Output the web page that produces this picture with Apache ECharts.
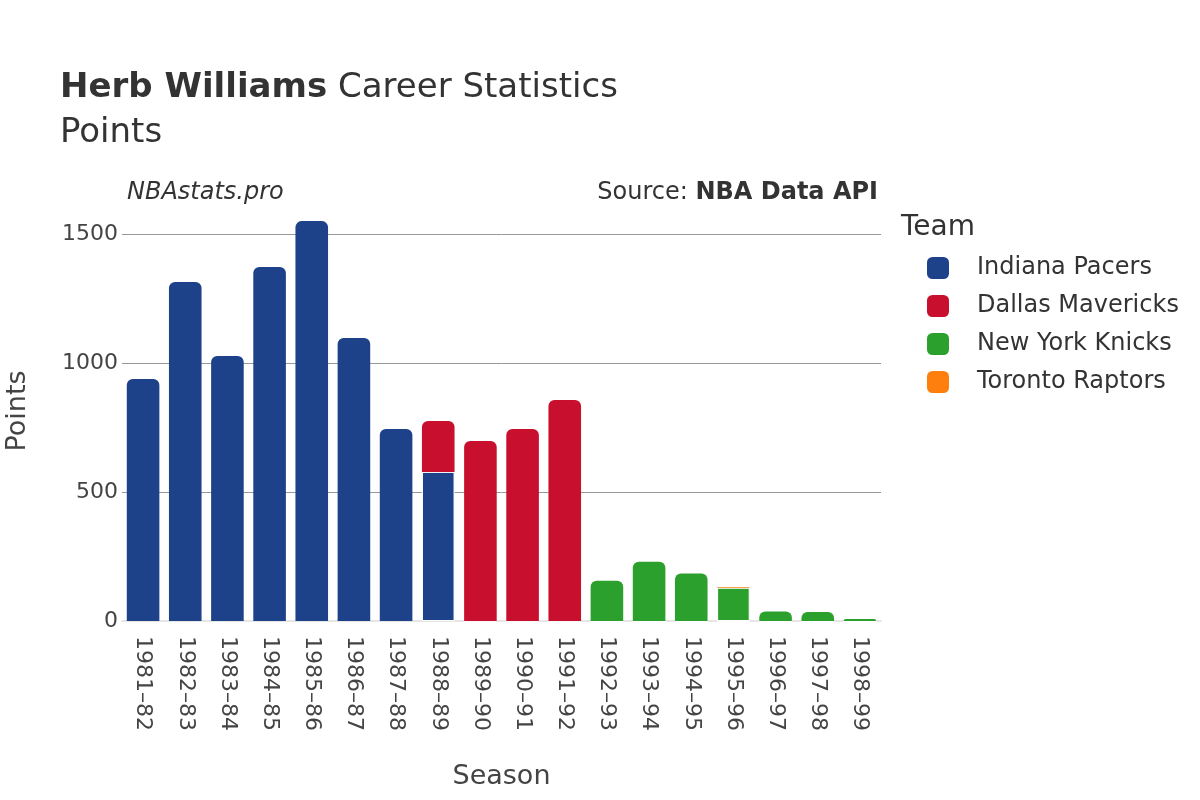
<!DOCTYPE html>
<html>
<head>
<meta charset="utf-8">
<script src="https://cdn.jsdelivr.net/npm/echarts@6/dist/echarts.min.js"></script>
<style>html,body{margin:0;padding:0;background:#fff;}#c{width:1200px;height:800px;}</style>
</head>
<body>
<div id="c"></div>
<script>
const seasons = ["1981\u201382","1982\u201383","1983\u201384","1984\u201385","1985\u201386","1986\u201387","1987\u201388","1988\u201389","1989\u201390","1990\u201391","1991\u201392","1992\u201393","1993\u201394","1994\u201395","1995\u201396","1996\u201397","1997\u201398","1998\u201399"];
const teams = ["Indiana Pacers","Dallas Mavericks","New York Knicks","Toronto Raptors"];
const indiana = [938,1314,1027,1372,1550,1097,744,578,0,0,0,0,0,0,0,0,0,0];
const dallas  = [0,0,0,0,0,0,0,197,698,744,857,0,0,0,0,0,0,0];
const knicks  = [0,0,0,0,0,0,0,0,0,0,0,156,230,184,129,37,35,8];
const toronto = [0,0,0,0,0,0,0,0,0,0,0,0,0,0,3,0,0,0];
const yTicks = [0,500,1000,1500];

const colors = ["#1d428a","#c8102e","#2ca02c","#ff7f0e"];
const allSeries = [indiana, dallas, knicks, toronto];

const font = "'DejaVu Sans', 'Noto Sans', sans-serif";

function buildData(si){
  return allSeries[si].map((v,i)=>{
    let top = true;
    for(let k=si+1;k<allSeries.length;k++){ if(allSeries[k][i]>0) top=false; }
    return top
      ? {value: v, itemStyle:{borderRadius:[6,6,0,0]}}
      : {value: v, itemStyle:{borderRadius:0, borderColor:'#fff', borderWidth:1}};
  });
}

const chart = echarts.init(document.getElementById('c'), null, {renderer:'canvas'});
chart.setOption({
  animation:false,
  backgroundColor:'#fff',
  textStyle:{fontFamily:font},
  title:[
    {text:'{b|Herb Williams} Career Statistics', left:55, top:66,
     textStyle:{fontFamily:font,fontSize:34,color:'#333',fontWeight:'normal',
       rich:{b:{fontFamily:font,fontSize:34,fontWeight:'bold',color:'#333'}}}},
    {text:'Points', left:55, top:111, textStyle:{fontFamily:font,fontSize:34,color:'#333',fontWeight:'normal'}},
    {text:'NBAstats.pro', left:122, top:176, textStyle:{fontFamily:font,fontSize:24,color:'#333',fontWeight:'normal',fontStyle:'italic'}},
    {text:'Source: {b|NBA Data API}', right:317, top:176,
     textStyle:{fontFamily:font,fontSize:24,color:'#333',fontWeight:'normal',
       rich:{b:{fontFamily:font,fontSize:24,fontWeight:'bold',color:'#333'}}}},
    {text:'Team', left:896, top:209, textStyle:{fontFamily:font,fontSize:28,color:'#333',fontWeight:'normal'}}
  ],
  legend:{
    orient:'vertical', left:922, top:251, itemWidth:22, itemHeight:22, itemGap:14,
    icon:'roundRect', data:teams,
    textStyle:{fontFamily:font,fontSize:24,color:'#333',padding:[0,0,0,23]}
  },
  grid:{left:122,right:319,top:201,bottom:179,containLabel:false,outerBoundsMode:'none'},
  xAxis:{
    type:'category', data:seasons,
    name:'Season', nameLocation:'middle', nameGap:142,
    nameTextStyle:{fontFamily:font,fontSize:27,color:'#444'},
    axisLine:{show:true,lineStyle:{color:'#e6e6e6',width:2}},
    axisTick:{show:false},
    axisLabel:{rotate:-90, fontFamily:font, fontSize:22, color:'#444', margin:15}
  },
  yAxis:{
    type:'value', min:0, max:1628, interval:500,
    name:'Points', nameLocation:'middle', nameGap:91, nameRotate:90,
    nameTextStyle:{fontFamily:font,fontSize:27,color:'#444'},
    axisLine:{show:false}, axisTick:{show:false},
    axisLabel:{fontFamily:font,fontSize:22,color:'#444',margin:4,showMaxLabel:false,
      formatter:function(v){return yTicks.indexOf(v)>=0 ? String(v) : '';}},
    splitLine:{show:true,showMaxLine:false,showMinLine:false,lineStyle:{color:'#999',width:1}}
  },
  series: teams.map((t,si)=>({
    name:t, type:'bar', stack:'total', data:buildData(si),
    barCategoryGap:'22.7%',
    itemStyle:{color:colors[si]},
    emphasis:{disabled:true}
  }))
});
</script>
</body>
</html>
